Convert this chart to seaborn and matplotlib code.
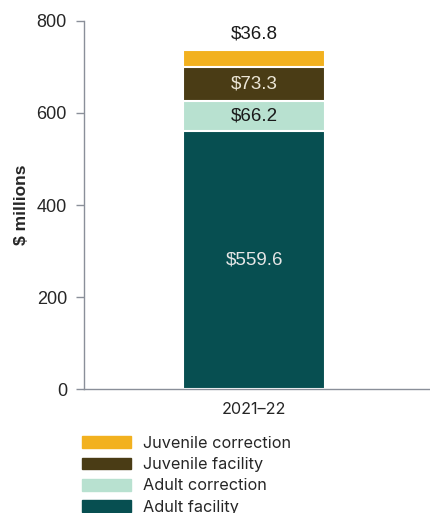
import seaborn as sns
import matplotlib.pyplot as plt
import matplotlib.patches as mpatches
import pandas as pd

period = ['2021–22']
categories = ['Adult facility', 'Adult correction', 'Juvenile facility', 'Juvenile correction']
values = [559.6, 66.2, 73.3, 36.8]
colors = ['#074f51', '#b8e1d0', '#4a3c15', '#f2b11f']
label_colors = ['#e6e6e6', '#1a1a1a', '#ece6d6', '#1a1a1a']

sns.set_style('white')
plt.rcParams['font.family'] = ['Liberation Sans', 'DejaVu Sans']

fig = plt.figure(figsize=(4.31, 5.13), dpi=100)
ax = fig.add_axes([84.3 / 431, 1 - 389.3 / 513, 1 - 84.3 / 431, 368.6 / 513])

# stacked bars: draw cumulative totals from the top down
cum = pd.Series(values).cumsum().tolist()
for i in reversed(range(len(values))):
    df = pd.DataFrame({'period': period, 'value': [cum[i]]})
    sns.barplot(data=df, x='period', y='value', color=colors[i], saturation=1,
                width=0.41, edgecolor='white', linewidth=1.5, ax=ax)

# value labels
for i, v in enumerate(values):
    bottom = cum[i] - v
    if i == len(values) - 1:
        ax.text(0, cum[i] + 36, f'${v}', ha='center', va='center',
                fontsize=13.5, color=label_colors[i])
    else:
        ax.text(0, bottom + v / 2, f'${v}', ha='center', va='center',
                fontsize=13.5, color=label_colors[i])

ax.set_ylim(0, 800)
ax.set_xlim(-0.49, 0.51)
ax.set_yticks([0, 200, 400, 600, 800])
ax.set_xlabel('')
ax.set_ylabel('$ millions', fontsize=12.5, fontweight='bold')
ax.yaxis.set_label_coords(-0.16, 0.5)
ax.tick_params(axis='y', length=6, width=1, color='#8a8f99', pad=6.5, labelsize=13, left=True)
ax.tick_params(axis='x', length=0, pad=9, labelsize=11.7)
for lbl in ax.get_xticklabels():
    lbl.set_family(['Inter', 'DejaVu Sans'])
for s in ['top', 'right']:
    ax.spines[s].set_visible(False)
for s in ['left', 'bottom']:
    ax.spines[s].set_color('#8a8f99')
    ax.spines[s].set_linewidth(1)

handles = [mpatches.Patch(color=colors[i], label=categories[i]) for i in reversed(range(len(values)))]
fig.legend(handles=handles, loc='upper left', bbox_to_anchor=(82.5 / 431, 1 - 436 / 513),
           frameon=False, borderpad=0, borderaxespad=0, handlelength=3.0, handleheight=0.75,
           handletextpad=0.75, labelspacing=0.38, prop={'family': ['Inter', 'DejaVu Sans'], 'size': 11.7})

fig.savefig('out.png', dpi=100)
